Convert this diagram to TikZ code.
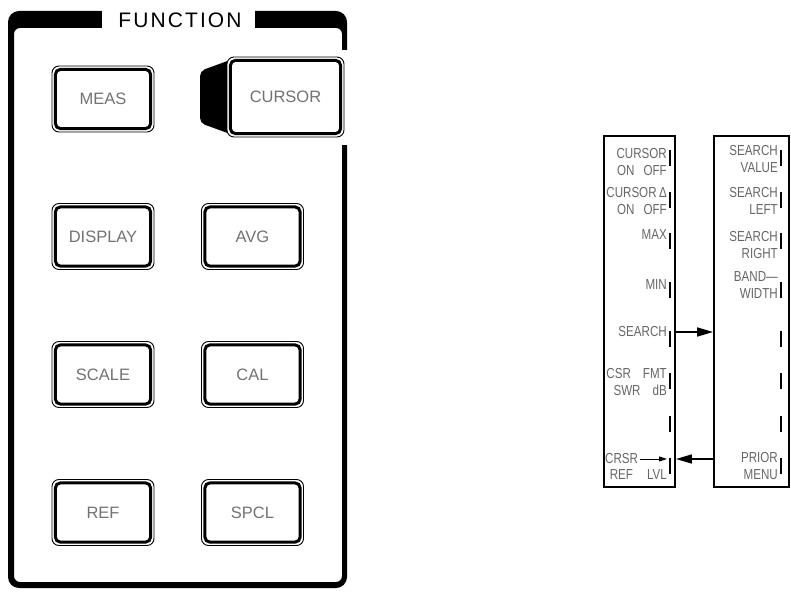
\documentclass[tikz,border=0pt]{standalone}
\usepackage{fontspec}
\setmainfont{Liberation Sans}
\newfontfamily\menufont[FakeStretch=0.8]{Liberation Sans}
\newfontfamily\titlefont[LetterSpace=10]{Liberation Sans}
\newcommand\keyfnt{\fontsize{16.5}{19}\selectfont}
\newcommand\menufnt{\menufont\fontsize{14.5}{17}\selectfont}
\newcommand\titlefnt{\titlefont\fontsize{21}{24}\selectfont}
\usetikzlibrary{arrows.meta, positioning}

\tikzset{
  keybtn/.style={draw, line width=0.9, rounded corners=7, fill=white,
    minimum width=102, minimum height=66, inner sep=0, text=black!55, font=\keyfnt,
    path picture={\draw[line width=3, rounded corners=5]
      ([xshift=3.4pt,yshift=-3.4pt]path picture bounding box.north west) rectangle
      ([xshift=-3.4pt,yshift=3.4pt]path picture bounding box.south east);}},
  menubox/.style={draw, line width=1.8, minimum height=351, inner sep=0},
  softtick/.style={line width=1.8},
  softlbl/.style={font=\menufnt, text=black!60, align=right, anchor=east, inner sep=0},
  flow/.style={line width=1.6, -{Triangle[length=16pt,width=9pt]}},
}

\begin{document}
\begin{tikzpicture}[x=1pt, y=-1pt]
  \useasboundingbox (0,0) rectangle (791,593);
  % FUNCTION frame, thick top bar
  \fill[even odd rule, rounded corners=11] (8,11) rectangle (347,588)
    [rounded corners=6] (14,28) rectangle (342,582);
  \fill[white] (340,50) rectangle (350,145);
  \fill[white] (102,8) rectangle (255,31);
  \node[font=\titlefnt] (title) at (180,20) {FUNCTION};
  % black wedge left of the lit CURSOR key
  \fill[rounded corners=5] (233,59) -- (200,71) -- (200,123) -- (233,135) -- cycle;
  % hardkeys
  \node[keybtn] (meas) at (103,99) {MEAS};
  \node[keybtn, minimum width=117, minimum height=80] (cursor) at (285.5,97) {CURSOR};
  \node[keybtn] (display) at (103,236.5) {DISPLAY};
  \node[keybtn] (avg) at (252.5,236.5) {AVG};
  \node[keybtn] (scale) at (103,374.5) {SCALE};
  \node[keybtn] (cal) at (252.5,374.5) {CAL};
  \node[keybtn] (ref) at (103,512.5) {REF};
  \node[keybtn] (spcl) at (252.5,512.5) {SPCL};
  % softkey menus
  \node[menubox, minimum width=71] (cmenu) at (639.5,311.5) {};
  \node[menubox, minimum width=75] (smenu) at (751.5,311.5) {};
  \foreach \ky in {158,200,241,290,339,381,424,466} {
    \draw[softtick] (670,\ky-8) -- (670,\ky+8);
    \draw[softtick] (781,\ky-8) -- (781,\ky+8);
  }
  % cursor menu labels
  \node[softlbl] (k1) at (667,162) {CURSOR\\ON\hspace{9pt}OFF};
  \node[softlbl] (k2) at (667,201) {CURSOR\,Δ\\ON\hspace{9pt}OFF};
  \node[softlbl] (k3) at (667,235) {MAX};
  \node[softlbl] (k4) at (667,285) {MIN};
  \node[softlbl] (k5) at (667,332) {SEARCH};
  \node[softlbl] (k6) at (667,382) {CSR\hspace{12pt}FMT\\SWR\hspace{12pt}dB};
  \node[softlbl, anchor=west] (k8) at (605,459) {CRSR};
  \node[softlbl] (k8b) at (667,475) {REF\hspace{14pt}LVL};
  \coordinate (k8end) at (667,459);
  \draw[line width=1, -{Triangle[length=8pt,width=5pt]}] ([xshift=2pt]k8.east) -- (k8end);
  % search menu labels
  \node[softlbl] (s1) at (778,159) {SEARCH\\VALUE};
  \node[softlbl] (s2) at (778,201) {SEARCH\\LEFT};
  \node[softlbl] (s3) at (778,245) {SEARCH\\RIGHT};
  \node[softlbl] (s4) at (778,285) {BAND—\\WIDTH};
  \node[softlbl] (s8) at (778,466) {PRIOR\\MENU};
  % menu links
  \draw[flow] (cmenu.east |- k5) -- (smenu.west |- k5);
  \draw[flow] (smenu.west |- k8) -- (cmenu.east |- k8);
\end{tikzpicture}
\end{document}
